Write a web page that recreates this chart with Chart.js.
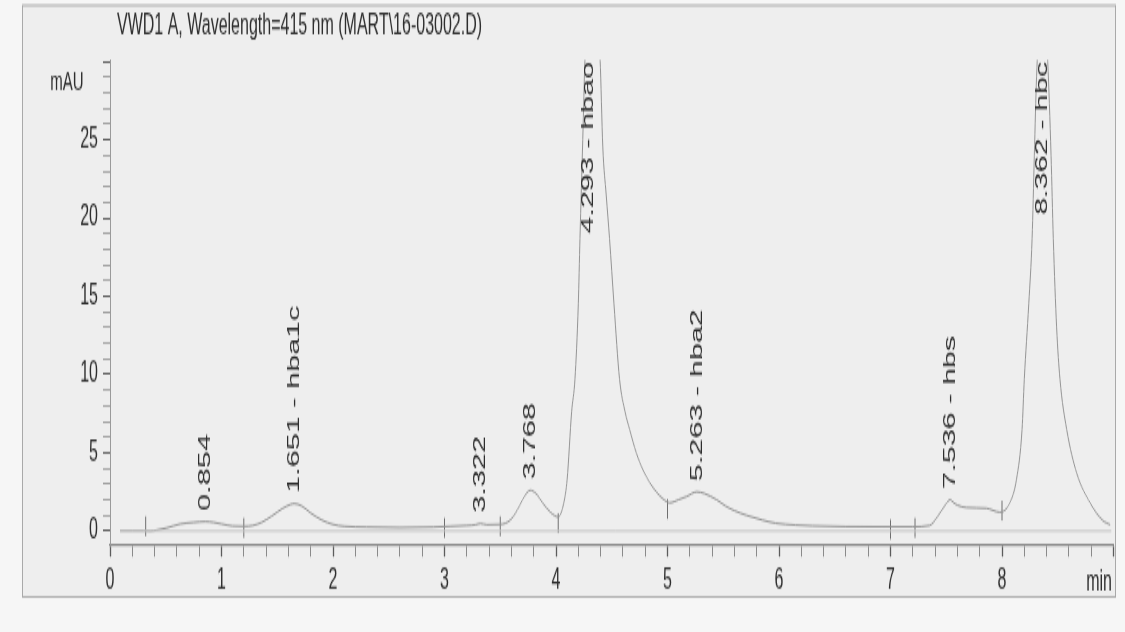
<!DOCTYPE html>
<html>
<head>
<meta charset="utf-8">
<title>VWD1 A, Wavelength=415 nm</title>
<script src="https://cdn.jsdelivr.net/npm/chart.js@4.4.1/dist/chart.umd.min.js"></script>
<style>
  html, body { margin: 0; padding: 0; background: #f6f6f6; overflow: hidden; }
  canvas { display: block; }
</style>
</head>
<body>
<!-- drawn at 1125x351 and shown at 1125x632, so every glyph and mark is stretched tall like the printed trace -->
<canvas id="chrom" width="1125" height="351" style="width:1125px;height:632px"></canvas>
<script>
// Detector trace: retention time (min) and absorbance (mAU)
const times = [
  0.09, 0.20, 0.30, 0.36, 0.42, 0.51, 0.63, 0.75, 0.854, 0.93,
  1.00, 1.10, 1.20, 1.28, 1.36, 1.45, 1.55, 1.62, 1.651, 1.72,
  1.80, 1.90, 2.00, 2.10, 2.30, 2.60, 2.90, 3.05, 3.20, 3.28,
  3.322, 3.38, 3.50, 3.59, 3.65, 3.70, 3.74, 3.768, 3.82, 3.88,
  3.95, 4.02, 4.07, 4.10, 4.14, 4.17, 4.20, 4.215, 4.24, 4.26,
  4.293, 4.34, 4.37, 4.395, 4.42, 4.45, 4.48, 4.52, 4.57, 4.62,
  4.66, 4.72, 4.78, 4.84, 4.90, 4.96, 5.02, 5.10, 5.17, 5.263,
  5.33, 5.44, 5.52, 5.60, 5.71, 5.85, 5.97, 6.15, 6.30, 6.60,
  7.00, 7.20, 7.35, 7.42, 7.49, 7.536, 7.56, 7.60, 7.68, 7.86,
  7.98, 8.07, 8.13, 8.18, 8.20, 8.24, 8.27, 8.29, 8.31, 8.362,
  8.41, 8.44, 8.46, 8.49, 8.52, 8.58, 8.67, 8.79, 8.90, 8.97
];
const mAU = [
  0.02, 0.02, 0.02, 0.00, 0.06, 0.20, 0.45, 0.55, 0.60, 0.55,
  0.45, 0.32, 0.30, 0.35, 0.55, 0.95, 1.45, 1.70, 1.75, 1.60,
  1.15, 0.70, 0.42, 0.30, 0.25, 0.22, 0.25, 0.30, 0.35, 0.40,
  0.48, 0.40, 0.42, 0.70, 1.30, 2.00, 2.45, 2.60, 2.40, 1.80,
  1.20, 0.90, 1.80, 3.30, 7.60, 9.70, 14.5, 18.7, 25.0, 30.2,
  34.0, 33.5, 32.0, 30.2, 24.5, 21.5, 18.7, 14.5, 9.7, 7.6,
  6.5, 5.0, 3.9, 3.1, 2.5, 2.05, 1.8, 2.0, 2.2, 2.5,
  2.4, 2.0, 1.6, 1.3, 1.0, 0.7, 0.5, 0.38, 0.33, 0.28,
  0.27, 0.27, 0.35, 0.9, 1.65, 2.0, 1.85, 1.65, 1.5, 1.45,
  1.2, 1.8, 3.3, 6.5, 9.7, 14.5, 18.7, 24.0, 29.0, 35.0,
  30.0, 24.0, 18.7, 13.0, 9.7, 6.5, 3.7, 1.8, 0.7, 0.4
];

// Integrated peaks: retention time and compound name
const peakTimes = [0.854, 1.651, 3.322, 3.768, 4.293, 5.263, 7.536, 8.362];
const peakNames = ['', 'hba1c', '', '', 'hbao', 'hba2', 'hbs', 'hbc'];

// Integration event marks (time, level)
const eventTimes  = [0.32, 1.20, 3.00, 3.50, 4.02, 5.00, 7.00, 7.22, 8.00];
const eventLevels = [0.30, 0.20, 0.20, 0.30, 0.50, 1.40, 0.10, 0.20, 1.30];

// Zero baseline
const baseTimes  = [0.09, 8.98];
const baseLevels = [0, 0];

// Axis ranges, tick steps and printed tick labels
const xRange = [0, 9];
const yRange = [-0.9, 30.1];
const xMinorStep = 0.2;
const yMinorStep = 1, yMajorStep = 5;
const xTickLabels = ['0', '1', '2', '3', '4', '5', '6', '7', '8'];
const yTickLabels = ['0', '5', '10', '15', '20', '25'];

const FONT = '"Liberation Sans", Arial, Helvetica, sans-serif';
const INK = '#2e2e2e';

const onStep = (v, step) => Math.abs(v / step - Math.round(v / step)) < 1e-6;
const pairs = (xs, ys) => xs.map((x, i) => ({ x, y: ys[i] }));
const labelFor = (list, v) => {
  const s = String(Math.round(v * 1000) / 1000);
  return list.includes(s) ? s : '';
};

// tick positions on whole multiples of the step inside a range
function stepTicks(range, step) {
  const out = [];
  const first = Math.ceil(range[0] / step - 1e-9);
  const last = Math.floor(range[1] / step + 1e-9);
  for (let k = first; k <= last; k++) out.push({ value: Math.round(k * step * 1e6) / 1e6 });
  return out;
}

const decorations = {
  id: 'decorations',
  beforeDraw(chart) {
    const ctx = chart.ctx;
    ctx.save();
    ctx.fillStyle = '#f6f6f6';
    ctx.fillRect(0, 0, chart.width, chart.height);
    ctx.fillStyle = '#eeeeee';
    ctx.fillRect(22, 2.8, 1094, 329);
    ctx.strokeStyle = '#a9a9a9';
    ctx.lineWidth = 1;
    ctx.strokeRect(22.5, 3, 1093, 328.5);
    ctx.restore();
  },
  afterDatasetsDraw(chart) {
    const ctx = chart.ctx;
    const xs = chart.scales.x, ys = chart.scales.y;
    const top = chart.chartArea.top;
    ctx.save();
    ctx.fillStyle = INK;
    ctx.font = '17px ' + FONT;
    ctx.textAlign = 'left';
    ctx.textBaseline = 'middle';
    peakTimes.forEach((t, i) => {
      const text = t.toFixed(3) + (peakNames[i] ? ' - ' + peakNames[i] : '');
      const w = ctx.measureText(text).width;
      const apex = mAU[times.indexOf(t)];
      let start = ys.getPixelForValue(apex) - 6;
      if (start - w < top + 1) start = top + 1 + w;
      ctx.save();
      ctx.translate(xs.getPixelForValue(t), start);
      ctx.rotate(-Math.PI / 2);
      ctx.fillText(text, 0, 0);
      ctx.restore();
    });
    ctx.restore();
  },
  afterDraw(chart) {
    const ctx = chart.ctx;
    ctx.save();
    ctx.fillStyle = INK;
    ctx.textBaseline = 'alphabetic';
    ctx.font = '16px ' + FONT;
    ctx.textAlign = 'left';
    ctx.fillText('VWD1 A, Wavelength=415 nm (MART\\16-03002.D)', 117, 19.2);
    ctx.font = '15px ' + FONT;
    ctx.textAlign = 'right';
    ctx.fillText('mAU', 83.5, 50);
    ctx.font = '16px ' + FONT;
    ctx.fillText('min', 1112, 327.6);
    ctx.restore();
  }
};

new Chart(document.getElementById('chrom'), {
  type: 'line',
  data: {
    datasets: [
      {
        label: 'baseline',
        data: pairs(baseTimes, baseLevels),
        borderColor: '#c6c6c6',
        borderWidth: 1,
        pointRadius: 0
      },
      {
        label: 'VWD1 A',
        data: pairs(times, mAU),
        borderColor: '#959595',
        borderWidth: 1,
        pointRadius: 0,
        cubicInterpolationMode: 'monotone'
      },
      {
        label: 'events',
        data: pairs(eventTimes, eventLevels),
        showLine: false,
        pointStyle: 'line',
        pointRotation: 90,
        pointRadius: 5.5,
        pointBorderColor: '#6f6f6f',
        pointBorderWidth: 1
      }
    ]
  },
  options: {
    responsive: false,
    devicePixelRatio: 1,
    animation: false,
    events: [],
    layout: { padding: { top: 33.3, left: 0, right: 11.5, bottom: 0 } },
    plugins: {
      legend: { display: false },
      tooltip: { enabled: false },
      title: { display: false }
    },
    scales: {
      x: {
        type: 'linear',
        min: xRange[0],
        max: xRange[1],
        afterBuildTicks(s) { s.ticks = stepTicks(xRange, xMinorStep); },
        afterFit(s) { s.height = 48.3; },
        ticks: {
          autoSkip: false,
          maxRotation: 0,
          padding: 4,
          color: INK,
          font: { family: FONT, size: 16 },
          callback: v => labelFor(xTickLabels, v)
        },
        grid: {
          drawOnChartArea: false,
          drawTicks: true,
          tickLength: 6.5,
          tickColor: c => onStep(c.tick.value, 1) ? '#5c5c5c' : '#8a8a8a',
          tickWidth: c => onStep(c.tick.value, 1) ? 1.3 : 1
        },
        border: { display: true, color: '#858585', width: 1.3 }
      },
      y: {
        type: 'linear',
        min: yRange[0],
        max: yRange[1],
        afterBuildTicks(s) { s.ticks = stepTicks(yRange, yMinorStep).filter(t => t.value >= 0); },
        afterFit(s) { s.width = 110; },
        ticks: {
          autoSkip: false,
          padding: 5,
          color: INK,
          font: { family: FONT, size: 16 },
          callback: v => labelFor(yTickLabels, v)
        },
        grid: {
          drawOnChartArea: false,
          drawTicks: true,
          tickLength: 7,
          tickColor: c => onStep(c.tick.value, yMajorStep) ? '#5c5c5c' : '#a2a2a2',
          tickWidth: 1
        },
        border: { display: true, color: '#9a9a9a', width: 1 }
      }
    }
  },
  plugins: [decorations]
});
</script>
</body>
</html>
